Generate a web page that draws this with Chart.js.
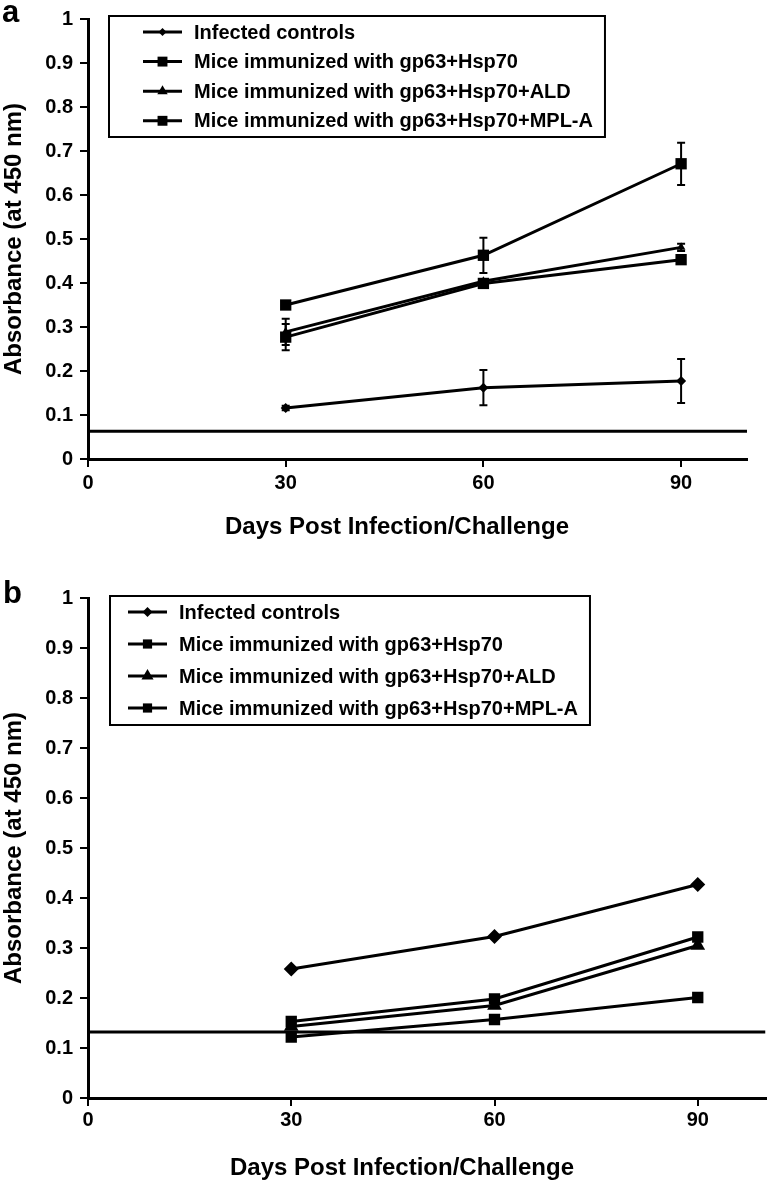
<!DOCTYPE html>
<html>
<head>
<meta charset="utf-8">
<script src="https://cdn.jsdelivr.net/npm/chart.js@4.4.0/dist/chart.umd.min.js"></script>
<style>
  body { margin:0; background:#fff; width:774px; height:1182px; overflow:hidden; position:relative; }
  .panel { position:absolute; left:0; width:774px; }
  #pa { top:0; height:560px; }
  #pb { top:560px; height:622px; }
</style>
</head>
<body>
<div class="panel" id="pa"><canvas id="chartA" width="774" height="560"></canvas></div>
<div class="panel" id="pb"><canvas id="chartB" width="774" height="622"></canvas></div>

<script>
// ---- data ----
const days = [30, 60, 90];
const xTicks = [0, 30, 60, 90];
const yTicks = [0, 0.1, 0.2, 0.3, 0.4, 0.5, 0.6, 0.7, 0.8, 0.9, 1];
const yTickLabels = ['0', '0.1', '0.2', '0.3', '0.4', '0.5', '0.6', '0.7', '0.8', '0.9', '1'];
const seriesNames = [
  'Infected controls',
  'Mice immunized with gp63+Hsp70',
  'Mice immunized with gp63+Hsp70+ALD',
  'Mice immunized with gp63+Hsp70+MPL-A'
];
const markers = ['rectRot', 'rect', 'triangle', 'rect'];
const xTitle = 'Days Post Infection/Challenge';
const yTitle = 'Absorbance (at 450 nm)';

// panel a
const aInfected = [0.116, 0.162, 0.177];
const aHsp70    = [0.350, 0.463, 0.671];
const aALD      = [0.289, 0.404, 0.481];
const aMPL      = [0.277, 0.399, 0.453];
const aInfectedErr = [0.005, 0.040, 0.050];
const aHsp70Err    = [0.004, 0.040, 0.048];
const aALDErr      = [0.030, 0.004, 0.008];
const aMPLErr      = [0.030, 0.004, 0.006];
const aCutoff = 0.063;

// panel b
const bInfected = [0.258, 0.323, 0.427];
const bHsp70    = [0.153, 0.198, 0.322];
const bALD      = [0.143, 0.185, 0.305];
const bMPL      = [0.122, 0.157, 0.201];
const bCutoff = 0.132;

// ---- drawing ----
const FONT = "'Liberation Sans', Arial, sans-serif";
Chart.defaults.font.family = FONT;
Chart.defaults.color = '#000';

function drawMarker(ctx, style, r, x, y) {
  if (Chart.helpers && Chart.helpers.drawPoint) {
    Chart.helpers.drawPoint(ctx, {pointStyle: style, radius: r, rotation: 0, borderWidth: 0}, x, y);
    return;
  }
  ctx.beginPath();
  if (style === 'rect') { const s = r * Math.SQRT1_2; ctx.rect(x - s, y - s, 2 * s, 2 * s); }
  else if (style === 'rectRot') { ctx.moveTo(x, y - r); ctx.lineTo(x + r, y); ctx.lineTo(x, y + r); ctx.lineTo(x - r, y); }
  else { ctx.moveTo(x, y - r); ctx.lineTo(x + r * 0.866, y + r / 2); ctx.lineTo(x - r * 0.866, y + r / 2); }
  ctx.closePath(); ctx.fill();
}

const errorBars = {
  id: 'errorBars',
  afterDatasetsDraw(chart) {
    const ctx = chart.ctx, xs = chart.scales.x, ys = chart.scales.y;
    ctx.save();
    ctx.strokeStyle = '#000';
    ctx.lineWidth = 2;
    chart.data.datasets.forEach(ds => {
      if (!ds.errs) return;
      ds.data.forEach((p, j) => {
        const e = ds.errs[j];
        const px = xs.getPixelForValue(p.x);
        const top = ys.getPixelForValue(p.y + e), bot = ys.getPixelForValue(p.y - e);
        ctx.beginPath();
        ctx.moveTo(px, top); ctx.lineTo(px, bot);
        ctx.moveTo(px - 4, top); ctx.lineTo(px + 4, top);
        ctx.moveTo(px - 4, bot); ctx.lineTo(px + 4, bot);
        ctx.stroke();
      });
    });
    ctx.restore();
  }
};

const decor = {
  id: 'decor',
  afterDraw(chart, args, o) {
    const ctx = chart.ctx;
    ctx.save();
    ctx.fillStyle = '#000';
    ctx.strokeStyle = '#000';
    // panel letter
    ctx.font = 'bold 31px ' + FONT;
    ctx.textAlign = 'left';
    ctx.textBaseline = 'alphabetic';
    ctx.fillText(o.letter, o.letterX, o.letterY);
    // legend
    ctx.font = 'bold 20px ' + FONT;
    ctx.textBaseline = 'middle';
    const sets = chart.data.datasets.filter(d => d.inLegend);
    let maxW = 0;
    sets.forEach(d => { maxW = Math.max(maxW, ctx.measureText(d.label).width); });
    ctx.lineWidth = 2;
    ctx.strokeRect(o.boxLeft, o.boxTop, o.textX + maxW + 12 - o.boxLeft, o.boxBottom - o.boxTop);
    sets.forEach((d, i) => {
      const y = o.rowY + i * o.rowGap;
      ctx.lineWidth = 3;
      ctx.beginPath(); ctx.moveTo(o.sampleX0, y); ctx.lineTo(o.sampleX1, y); ctx.stroke();
      drawMarker(ctx, d.pointStyle, o.legendRadii[i], (o.sampleX0 + o.sampleX1) / 2, y);
      ctx.fillText(d.label, o.textX, y + 1);
    });
    // x axis title
    ctx.font = 'bold 24px ' + FONT;
    ctx.textAlign = 'center';
    ctx.fillText(xTitle, o.xTitleX, o.xTitleY);
    ctx.restore();
  }
};

function makeChart(id, c) {
  const datasets = c.values.map((vals, i) => ({
    label: seriesNames[i],
    inLegend: true,
    data: vals.map((v, j) => ({x: days[j], y: v})),
    errs: c.errs ? c.errs[i] : null,
    pointStyle: markers[i],
    pointRadius: c.radii[i],
    pointBorderWidth: 0,
    borderColor: '#000',
    backgroundColor: '#000',
    borderWidth: 3,
    tension: 0,
    fill: false
  }));
  datasets.push({
    label: 'cutoff',
    inLegend: false,
    data: [{x: 0, y: c.cutoff}, {x: 100, y: c.cutoff}],
    pointRadius: 0,
    borderColor: '#000',
    borderWidth: 3,
    fill: false
  });
  return new Chart(document.getElementById(id), {
    type: 'line',
    data: {datasets},
    options: {
      responsive: false,
      animation: false,
      devicePixelRatio: 1,
      layout: {padding: {left: 0, top: c.padTop, right: c.padRight, bottom: 0}},
      plugins: {
        legend: {display: false},
        tooltip: {enabled: false},
        decor: c.decor
      },
      scales: {
        x: {
          type: 'linear', min: 0, max: 100,
          afterBuildTicks: s => { s.ticks = xTicks.map(v => ({value: v})); },
          afterFit: s => { s.height = c.xAxisH; },
          grid: {drawOnChartArea: false, color: '#000', lineWidth: 2, tickLength: 8},
          border: {color: '#000', width: 3},
          ticks: {color: '#000', font: {size: 20, weight: 'bold'}, padding: c.xTickPad, maxRotation: 0}
        },
        y: {
          type: 'linear', min: 0, max: 1,
          afterBuildTicks: s => { s.ticks = yTicks.map(v => ({value: v})); },
          afterFit: s => { s.width = 88; },
          grid: {drawOnChartArea: false, color: '#000', lineWidth: 2, tickLength: 8},
          border: {color: '#000', width: 3},
          ticks: {color: '#000', font: {size: 20, weight: 'bold'}, padding: 7,
                  callback: (v, i) => yTickLabels[i]},
          title: {display: true, text: yTitle, color: '#000', font: {size: 24, weight: 'bold'}, padding: 0}
        }
      }
    },
    plugins: [errorBars, decor]
  });
}

makeChart('chartA', {
  values: [aInfected, aHsp70, aALD, aMPL],
  errs: [aInfectedErr, aHsp70Err, aALDErr, aMPLErr],
  cutoff: aCutoff,
  radii: [5, 8, 5, 8],
  padTop: 17, padRight: 27, xAxisH: 101, xTickPad: 4,
  decor: {
    letter: 'a', letterX: 2, letterY: 22,
    boxLeft: 109, boxTop: 16, boxBottom: 137,
    sampleX0: 143, sampleX1: 182, textX: 194, rowY: 32, rowGap: 29.6,
    legendRadii: [4, 7, 6, 7],
    xTitleX: 397, xTitleY: 527
  }
});

makeChart('chartB', {
  values: [bInfected, bHsp70, bALD, bMPL],
  errs: null,
  cutoff: bCutoff,
  radii: [7.5, 8, 8.5, 8],
  padTop: 38, padRight: 3, xAxisH: 84, xTickPad: 2,
  decor: {
    letter: 'b', letterX: 3, letterY: 43,
    boxLeft: 110, boxTop: 36, boxBottom: 165,
    sampleX0: 128, sampleX1: 167, textX: 179, rowY: 52, rowGap: 32,
    legendRadii: [5, 6.5, 7, 6.5],
    xTitleX: 402, xTitleY: 608
  }
});
</script>
</body>
</html>
